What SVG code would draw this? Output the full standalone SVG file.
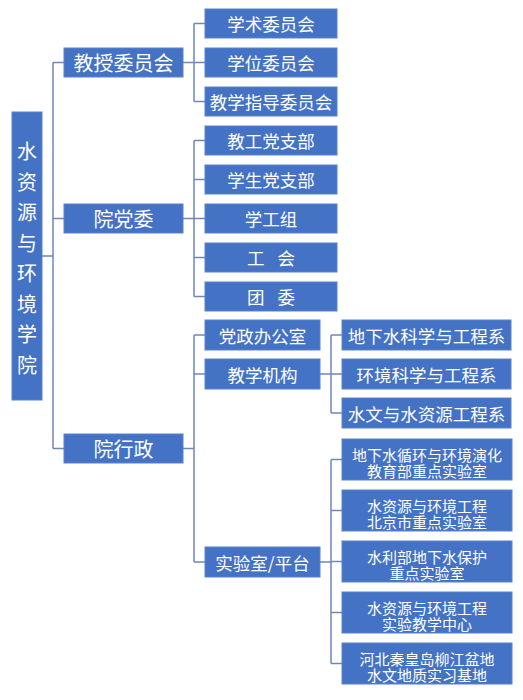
<svg xmlns="http://www.w3.org/2000/svg" width="523" height="700" viewBox="0 0 523 700">
<style>
.b{fill:#4472C4;stroke:#5A82CC;stroke-width:1}
.t{fill:#fff;font-family:"Noto Sans CJK SC","Noto Sans",sans-serif;text-anchor:middle;dominant-baseline:central}
.l1{font-size:20px}
.l2{font-size:17.5px}
.l3{font-size:15px}
.c{fill:none;stroke:#6F87B8;stroke-width:1.5}
</style>
<rect width="523" height="700" fill="#fff"/>
<g id="connectors" class="c">
<path d="M42 256H53M53 62.5V448.5M53 62.5H64M53 218.5H64M53 448.5H64"/>
<path d="M183 62.5H194M194 23.5V101.5M194 23.5H205M194 62.5H205M194 101.5H205"/>
<path d="M183 218.5H194M194 140.5V296.5M194 140.5H205M194 179.5H205M194 218.5H205M194 257.5H205M194 296.5H205"/>
<path d="M183 448.5H194M194 335V562M194 335H205M194 374H205M194 562H205"/>
<path d="M320 374H331M331 335V413M331 335H342M331 374H342M331 413H342"/>
<path d="M320 562H331M331 459.5V663.5M331 459.5H342M331 510.5H342M331 561.5H342M331 612.5H342M331 663.5H342"/>
</g>
<g id="root"><rect class="b" x="12" y="112" width="30" height="288"/>
<text class="t l1"><tspan x="27" y="150">水</tspan><tspan x="27" y="180.5">资</tspan><tspan x="27" y="211">源</tspan><tspan x="27" y="241.5">与</tspan><tspan x="27" y="272">环</tspan><tspan x="27" y="302.5">境</tspan><tspan x="27" y="333">学</tspan><tspan x="27" y="363.5">院</tspan></text></g>
<g id="n-jswyh"><rect class="b" x="64" y="48" width="119" height="29"/><text class="t l1" x="123.5" y="62.5">教授委员会</text></g>
<g id="n-ydw"><rect class="b" x="64" y="204" width="119" height="29"/><text class="t l1" x="123.5" y="218.5">院党委</text></g>
<g id="n-yxz"><rect class="b" x="64" y="434" width="119" height="29"/><text class="t l1" x="123.5" y="448.5">院行政</text></g>
<g id="n-xswyh"><rect class="b" x="205" y="9" width="132" height="29"/><text class="t l2" x="271" y="23.5">学术委员会</text></g>
<g id="n-xwwyh"><rect class="b" x="205" y="48" width="132" height="29"/><text class="t l2" x="271" y="62.5">学位委员会</text></g>
<g id="n-jxzd"><rect class="b" x="205" y="87" width="132" height="29"/><text class="t l2" x="271" y="101.5">教学指导委员会</text></g>
<g id="n-jgdzb"><rect class="b" x="205" y="126" width="132" height="29"/><text class="t l2" x="271" y="140.5">教工党支部</text></g>
<g id="n-xsdzb"><rect class="b" x="205" y="165" width="132" height="29"/><text class="t l2" x="271" y="179.5">学生党支部</text></g>
<g id="n-xgz"><rect class="b" x="205" y="204" width="132" height="29"/><text class="t l2" x="271" y="218.5">学工组</text></g>
<g id="n-gh"><rect class="b" x="205" y="243" width="132" height="29"/><text class="t l2" x="271" y="257.5" word-spacing="9">工 会</text></g>
<g id="n-tw"><rect class="b" x="205" y="282" width="132" height="29"/><text class="t l2" x="271" y="296.5" word-spacing="9">团 委</text></g>
<g id="n-dzbgs"><rect class="b" x="205" y="320" width="115" height="30"/><text class="t l2" x="262.5" y="335">党政办公室</text></g>
<g id="n-jxjg"><rect class="b" x="205" y="359" width="115" height="30"/><text class="t l2" x="262.5" y="374">教学机构</text></g>
<g id="n-sys"><rect class="b" x="205" y="547" width="115" height="30"/><text class="t l2" x="262.5" y="562">实验室/平台</text></g>
<g id="n-dxs"><rect class="b" x="342" y="320" width="169" height="30"/><text class="t l2" x="426.5" y="335">地下水科学与工程系</text></g>
<g id="n-hj"><rect class="b" x="342" y="359" width="169" height="30"/><text class="t l2" x="426.5" y="374">环境科学与工程系</text></g>
<g id="n-swsz"><rect class="b" x="342" y="398" width="169" height="30"/><text class="t l2" x="426.5" y="413">水文与水资源工程系</text></g>
<g id="n-lab1"><rect class="b" x="342" y="439" width="170" height="41"/><text class="t l3"><tspan x="427" y="453.5">地下水循环与环境演化</tspan><tspan x="427" y="469.5">教育部重点实验室</tspan></text></g>
<g id="n-lab2"><rect class="b" x="342" y="490" width="170" height="41"/><text class="t l3"><tspan x="427" y="504.5">水资源与环境工程</tspan><tspan x="427" y="520.5">北京市重点实验室</tspan></text></g>
<g id="n-lab3"><rect class="b" x="342" y="541" width="170" height="41"/><text class="t l3"><tspan x="427" y="555.5">水利部地下水保护</tspan><tspan x="427" y="571.5">重点实验室</tspan></text></g>
<g id="n-lab4"><rect class="b" x="342" y="592" width="170" height="41"/><text class="t l3"><tspan x="427" y="606.5">水资源与环境工程</tspan><tspan x="427" y="622.5">实验教学中心</tspan></text></g>
<g id="n-lab5"><rect class="b" x="342" y="643" width="170" height="41"/><text class="t l3"><tspan x="427" y="657.5">河北秦皇岛柳江盆地</tspan><tspan x="427" y="673.5">水文地质实习基地</tspan></text></g>
</svg>
